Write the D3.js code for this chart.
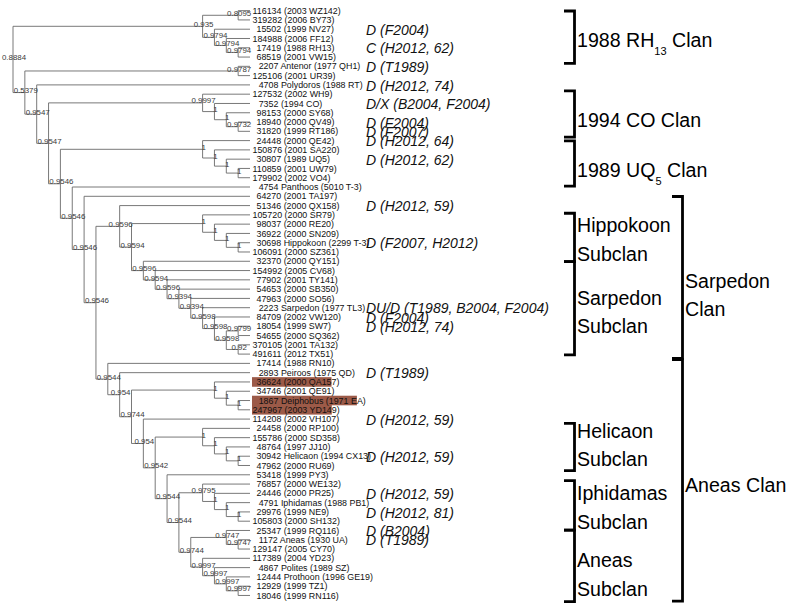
<!DOCTYPE html>
<html><head><meta charset="utf-8">
<script src="https://cdn.jsdelivr.net/npm/d3@7"></script>
<style>body{margin:0;background:#fff}svg{display:block}</style>
</head><body><svg id="c" width="789" height="609"></svg>
<script>
// ---- DATA ----
const leafNames = [
 "116134 (2003 WZ142)","319282 (2006 BY73)","15502 (1999 NV27)","184988 (2006 FF12)",
 "17419 (1988 RH13)","68519 (2001 VW15)","2207 Antenor (1977 QH1)","125106 (2001 UR39)",
 "4708 Polydoros (1988 RT)","127532 (2002 WH9)","7352 (1994 CO)","98153 (2000 SY68)",
 "18940 (2000 QV49)","31820 (1999 RT186)","24448 (2000 QE42)","150876 (2001 SA220)",
 "30807 (1989 UQ5)","110859 (2001 UW79)","179902 (2002 VO4)","4754 Panthoos (5010 T-3)",
 "64270 (2001 TA197)","51346 (2000 QX158)","105720 (2000 SR79)","98037 (2000 RE20)",
 "36922 (2000 SN209)","30698 Hippokoon (2299 T-3)","106091 (2000 SZ361)","32370 (2000 QY151)",
 "154992 (2005 CV68)","77902 (2001 TY141)","54653 (2000 SB350)","47963 (2000 SO56)",
 "2223 Sarpedon (1977 TL3)","84709 (2002 VW120)","18054 (1999 SW7)","54655 (2000 SQ362)",
 "370105 (2001 TA132)","491611 (2012 TX51)","17414 (1988 RN10)","2893 Peiroos (1975 QD)",
 "36624 (2000 QA157)","34746 (2001 QE91)","1867 Deiphobus (1971 EA)","247967 (2003 YD149)",
 "114208 (2002 VH107)","24458 (2000 RP100)","155786 (2000 SD358)","48764 (1997 JJ10)",
 "30942 Helicaon (1994 CX13)","47962 (2000 RU69)","53418 (1999 PY3)","76857 (2000 WE132)",
 "24446 (2000 PR25)","4791 Iphidamas (1988 PB1)","29976 (1999 NE9)","105803 (2000 SH132)",
 "25347 (1999 RQ116)","1172 Aneas (1930 UA)","129147 (2005 CY70)","117389 (2004 YD23)",
 "4867 Polites (1989 SZ)","12444 Prothoon (1996 GE19)","12929 (1999 TZ1)","18046 (1999 RN116)"
];

// tree topology (leaf indices into leafNames), internal node support values as labels
const treeNewick =
 "(((0,1)0.8095,(2,(3,(4,5)0.9794)0.9794)0.9794)0.935," +
 "((6,7)0.9787,(8,((9,(10,(11,(12,13)0.9732)1)1)0.9997," +
 "((14,(15,(16,(17,18)1)1)1)1,(19,(20,((21,((22,(23,(24,(25,26)1)1)1)1," +
 "(27,(28,(29,(30,(31,(32,(33,((34,35)0.9799,(36,37)0.92)0.9598)0.9598)0.9598)0.9394)0.9394)0.9596)0.9594)0.9596)0.9594)0.9596," +
 "(38,(39,((40,(41,(42,43)1)1)1,(44,((45,(46,(47,(48,49)1)1)1)1," +
 "(50,((51,(52,(53,(54,55)1)1)1)0.9795,((56,(57,58)0.9747)0.9747,(59,(60,(61,(62,63)0.9997)0.9997)0.9997)0.9997)0.9744)0.9544)0.9544)0.9542)0.954)0.9744)0.954)0.9544)0.9546)0.9546)0.9546)0.9546)0.9547)0.9547)0.5379)0.8884";

const highlightedLeaves = ["36624", "1867", "247967"];

const annotations = [
 ["15502","D (F2004)"],["17419","C (H2012, 62)"],["2207","D (T1989)"],
 ["4708","D (H2012, 74)"],["7352","D/X (B2004, F2004)"],["18940","D (F2004)"],
 ["31820","D (F2007)"],["24448","D (H2012, 64)"],["30807","D (H2012, 62)"],
 ["51346","D (H2012, 59)"],["30698","D (F2007, H2012)"],["2223","DU/D (T1989, B2004, F2004)"],
 ["84709","D (F2004)"],["18054","D (H2012, 74)"],["2893","D (T1989)"],
 ["114208","D (H2012, 59)"],["30942","D (H2012, 59)"],["24446","D (H2012, 59)"],
 ["29976","D (H2012, 81)"],["25347","D (B2004)"],["1172","D (T1989)"]
];

// clan brackets: leaf-row span, nesting level, label lines (_n_ = subscript), first-baseline row
const bracketFrom  = [0.53, 9.0, 14.3, 21.98, 27.1, 20.2, 44.25, 50.34, 55.57, 37.5];
const bracketTo    = [6.08, 13.9, 19.1, 27.1, 37.0, 37.37, 49.28, 55.57, 63.17, 63.1];
const bracketLevel = [1, 1, 1, 1, 1, 2, 1, 1, 1, 2];
const bracketLabels = [
 ["1988 RH_13_ Clan"], ["1994 CO Clan"], ["1989 UQ_5_ Clan"],
 ["Hippokoon","Subclan"], ["Sarpedon","Subclan"], ["Sarpedon","Clan"],
 ["Helicaon","Subclan"], ["Iphidamas","Subclan"], ["Aneas","Subclan"], ["Aneas Clan"]
];
const bracketLabelRow = [4.35, 12.83, 18.13, 23.97, 31.7, 29.9, 45.8, 52.4, 59.5, 51.5];

// ---- PARSE ----
function parseNewick(s){
  let i = 0;
  function node(){
    const n = {};
    if (s[i] === '(') {
      i++; n.children = [];
      while (true) { n.children.push(node()); if (s[i] === ',') { i++; } else break; }
      i++;
    }
    let lab = '';
    while (i < s.length && !',()'.includes(s[i])) lab += s[i++];
    if (n.children) n.label = lab; else n.leaf = +lab;
    return n;
  }
  return node();
}

const svg = d3.select("#c");
const root = d3.hierarchy(parseNewick(treeNewick));
d3.cluster().size([1, 1]).separation(() => 1)(root);

const yB = d3.scaleLinear().domain([0, 1]).range([6, 600.1]);      // breadth
const xD = d3.scaleLinear().domain([0, 1]).range([13, 250]);       // depth
const rowY = d3.scaleLinear().domain([0, leafNames.length - 1]).range([6, 600.1]);

const FONT = "'Liberation Sans', Arial, Helvetica, sans-serif";

// highlight boxes + leaf labels
const gLab = svg.append("g");
const leaves = root.leaves();
const digitX = {6: 252.5, 5: 256.5, 4: 258.7};
const leafByNum = {};
leaves.forEach(l => {
  const name = leafNames[l.data.leaf];
  const num = name.split(" ")[0];
  leafByNum[num] = l;
  l.labelX = digitX[num.length] || 252.5;
});
const gBox = gLab.append("g");
leaves.forEach(l => {
  const name = leafNames[l.data.leaf];
  const t = gLab.append("text")
    .attr("x", l.labelX).attr("y", yB(l.x) + 3.1)
    .attr("font-family", FONT).attr("font-size", 8.9).attr("fill", "#111")
    .text(name);
  const num = name.split(" ")[0];
  if (highlightedLeaves.includes(num)) {
    const w = t.node().getSubStringLength(0, name.length - 2);
    gBox.append("rect").attr("x", 252).attr("y", yB(l.x) - 4.8)
      .attr("width", l.labelX + w - 252).attr("height", 9.6)
      .attr("fill", "#9c5a48");
  }
});

// tree lines
const gT = svg.append("g").attr("stroke", "#6a6a6a").attr("stroke-width", 0.9).attr("fill", "none");
root.descendants().forEach(n => {
  if (n.parent) {
    gT.append("path").attr("d", `M${xD(n.parent.y)},${yB(n.x)}H${xD(n.y)}`);
  }
  if (n.children) {
    const a = n.children[0], b = n.children[n.children.length - 1];
    gT.append("path").attr("d", `M${xD(n.y)},${yB(a.x)}V${yB(b.x)}`);
  }
});

// node support labels
svg.append("g").selectAll("text")
  .data(root.descendants().filter(n => n.children))
  .join("text")
  .attr("x", n => xD(n.y) + 1).attr("y", n => yB(n.x) + 0.6)
  .attr("text-anchor", "middle")
  .attr("font-family", FONT).attr("font-size", 7.9).attr("fill", "#3a3a3a")
  .text(n => n.data.label);

// annotations
svg.append("g").selectAll("text")
  .data(annotations)
  .join("text")
  .attr("x", 366).attr("y", d => yB(leafByNum[d[0]].x) + 5.7)
  .attr("font-family", FONT).attr("font-size", 14).attr("font-style", "italic").attr("fill", "#111")
  .text(d => d[1]);

// brackets
const levelX = {1: 574.5, 2: 682.5};
const gBr = svg.append("g");
bracketFrom.forEach((f, i) => {
  const x = levelX[bracketLevel[i]];
  const y0 = rowY(f), y1 = rowY(bracketTo[i]);
  gBr.append("path").attr("d", `M${x - 10.5},${y0}H${x}V${y1}H${x - 10.5}`)
    .attr("fill", "none").attr("stroke", "#000").attr("stroke-width", 2.8);
  const base = rowY(bracketLabelRow[i]);
  bracketLabels[i].forEach((line, j) => {
    const t = gBr.append("text").attr("x", x + 2.5).attr("y", base + j * 28.5)
      .attr("font-family", FONT).attr("font-size", 19.6).attr("fill", "#000");
    const parts = line.split("_");
    let shifted = false;
    parts.forEach((p, k) => {
      if (!p) return;
      const sub = k % 2 === 1;
      const ts = t.append("tspan").text(p);
      if (sub) { ts.attr("font-size", 11).attr("dy", 8); shifted = true; }
      else if (shifted) { ts.attr("dy", -8); shifted = false; }
    });
  });
});
</script>
</body></html>
